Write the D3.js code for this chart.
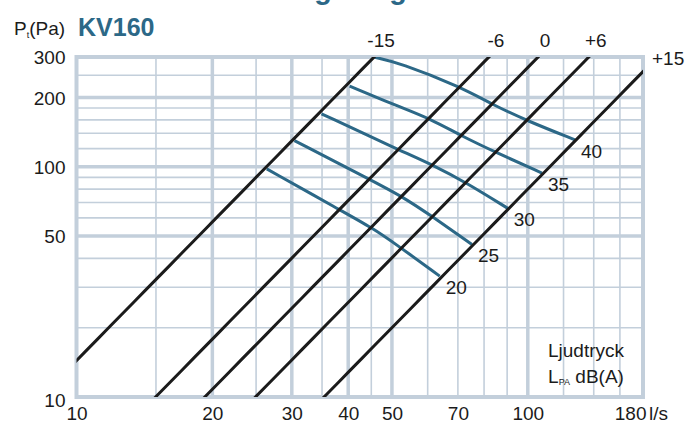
<!DOCTYPE html>
<html>
<head>
<meta charset="utf-8">
<script src="https://cdn.jsdelivr.net/npm/d3@7"></script>
<style>
  body { margin: 0; background: #fff; }
  text { font-family: "Liberation Sans", Arial, sans-serif; }
</style>
</head>
<body>
<svg id="chart" width="691" height="424"></svg>
<script>
// axis ticks (flow l/s, total pressure Pa)
const xTicks = [10, 20, 30, 40, 50, 70, 100, 180];
const yTicks = [10, 50, 100, 200, 300];
const xGridMajor = [20, 30, 40, 50, 100];
const xGridMinor = [15, 25, 35, 45, 60, 70, 80, 90, 120, 140, 160];
const yGridMajor = [50, 100, 200];
const yGridMinor = [20, 30, 40, 60, 70, 80, 90, 120, 140, 160, 180, 250];

// damper settings, pressure grows with q^2 : P = k * q^2
const settings = ["-15", "-6", "0", "+6", "+15"];
const kValues = [0.144, 0.0446, 0.0270, 0.0161, 0.0080];

// sound pressure curves, dB(A): [q, P]
const soundLevels = [40, 35, 30, 25, 20];
const sound40 = [[45.8, 299], [52, 283], [70.7, 223], [83.7, 186], [100, 158], [127.2, 131]];
const sound35 = [[40.3, 224], [52, 182], [60.7, 162], [71.4, 136], [85.4, 115], [107.5, 94]];
const sound30 = [[34.9, 170], [51.5, 119], [61.6, 102], [73.3, 85], [90.3, 66]];
const sound25 = [[30.4, 130], [44.2, 89], [52.6, 74.5], [61.3, 61], [75.2, 46]];
const sound20 = [[26.4, 98], [38.3, 65], [45.1, 54.5], [51.5, 45.5], [63.8, 33.5]];
const soundCurves = [sound40, sound35, sound30, sound25, sound20];

const blue = "#2c6887";
const gridColor = "#c3cfdb";

const svg = d3.select("#chart");
const x = d3.scaleLog().domain([10, 180]).range([76.5, 643]);
const y = d3.scaleLog().domain([10, 300]).range([397, 57]);

// cut-off title at the very top (only the descenders show)
const title = svg.append("text")
    .attr("font-weight", "bold").attr("font-size", 29)
    .attr("fill", blue).attr("y", -1)
    .text("Dimensioneringsdiagram");
{
  const n = title.node(), s = title.text();
  let e1 = n.getExtentOfChar(s.indexOf("g")), e2 = n.getExtentOfChar(s.lastIndexOf("g"));
  title.attr("font-size", 29 * 75 / (e2.x - e1.x));
  e1 = n.getExtentOfChar(s.indexOf("g"));
  title.attr("x", 323 - (e1.x + e1.width / 2));
}

svg.append("clipPath").attr("id", "plot")
  .append("rect").attr("x", x(10)).attr("y", y(300))
  .attr("width", x(180) - x(10)).attr("height", y(10) - y(300));

// grid
const grid = svg.append("g");
grid.selectAll(".vmin").data(xGridMinor).join("line")
    .attr("x1", d => x(d)).attr("x2", d => x(d)).attr("y1", y(10)).attr("y2", y(300))
    .attr("stroke", gridColor).attr("stroke-width", 1.6);
grid.selectAll(".hmin").data(yGridMinor).join("line")
    .attr("y1", d => y(d)).attr("y2", d => y(d)).attr("x1", x(10)).attr("x2", x(180))
    .attr("stroke", gridColor).attr("stroke-width", 1.6);
grid.selectAll(".vmaj").data(xGridMajor).join("line")
    .attr("x1", d => x(d)).attr("x2", d => x(d)).attr("y1", y(10)).attr("y2", y(300))
    .attr("stroke", gridColor).attr("stroke-width", 3.5);
grid.selectAll(".hmaj").data(yGridMajor).join("line")
    .attr("y1", d => y(d)).attr("y2", d => y(d)).attr("x1", x(10)).attr("x2", x(180))
    .attr("stroke", gridColor).attr("stroke-width", 3.5);
grid.append("rect")
    .attr("x", x(10)).attr("y", y(300))
    .attr("width", x(180) - x(10)).attr("height", y(10) - y(300))
    .attr("fill", "none").attr("stroke", gridColor).attr("stroke-width", 4);

const plot = svg.append("g").attr("clip-path", "url(#plot)");

// sound curves (smoothed)
const curveLine = d3.line().x(d => x(d[0])).y(d => y(d[1])).curve(d3.curveBasis);
plot.selectAll(".snd").data(soundCurves).join("path")
    .attr("d", curveLine).attr("fill", "none")
    .attr("stroke", blue).attr("stroke-width", 3);

// damper lines
const flows = d3.range(0, 61).map(i => 5 * Math.pow(40, i / 60));
plot.selectAll(".dmp").data(kValues).join("path")
    .attr("d", k => d3.line()(flows.map(q => [x(q), y(Math.max(1, k * q * q))])))
    .attr("fill", "none").attr("stroke", "#1b1b1b").attr("stroke-width", 3);

// damper labels
const lbl = svg.append("g").attr("font-size", 19).attr("fill", "#1b1b1b");
settings.forEach((s, i) => {
  const k = kValues[i];
  const qTop = Math.sqrt(300 / k);
  if (qTop <= 180) {
    lbl.append("text").attr("x", x(qTop) + 7).attr("y", 47)
       .attr("text-anchor", "middle").text(s);
  } else {
    lbl.append("text").attr("x", x(180) + 9).attr("y", 65).text(s);
  }
});

// sound level labels
soundCurves.forEach((c, i) => {
  const last = c[c.length - 1];
  lbl.append("text").attr("x", x(last[0]) + 6).attr("y", y(last[1]) + 18).text(soundLevels[i]);
});

// axes
const xAxis = svg.append("g").attr("transform", `translate(0,${y(10)})`)
    .call(d3.axisBottom(x).tickValues(xTicks).tickFormat(d3.format("d")).tickSize(0).tickPadding(10));
const yAxis = svg.append("g").attr("transform", `translate(${x(10)},0)`)
    .call(d3.axisLeft(y).tickValues(yTicks).tickFormat(d3.format("d")).tickSize(0).tickPadding(11));
[xAxis, yAxis].forEach(a => {
  a.select(".domain").remove();
  a.selectAll("text").attr("font-size", 19).attr("fill", "#1b1b1b")
   .attr("font-family", "Liberation Sans, Arial, sans-serif");
});
yAxis.selectAll(".tick text").attr("dy", "0.34em");
yAxis.selectAll(".tick").filter(d => d === 10).select("text").attr("dy", "0.5em");
xAxis.selectAll(".tick").filter(d => d === 180).select("text")
    .attr("text-anchor", "end").attr("dx", 3);
svg.append("text").attr("x", 649).attr("y", 420).attr("font-size", 19)
    .attr("fill", "#1b1b1b").text("l/s");

// axis title
const yt = svg.append("text").attr("x", 14).attr("y", 35).attr("font-size", 19).attr("fill", "#1b1b1b");
yt.append("tspan").text("P");
yt.append("tspan").attr("font-size", 9).attr("dy", 3).text("t");
yt.append("tspan").attr("dy", -3).text("(Pa)");
svg.append("text").attr("x", 78).attr("y", 36).attr("font-size", 25)
    .attr("font-weight", "bold").attr("fill", blue).text("KV160");

// legend note
const note = svg.append("g").attr("font-size", 19).attr("fill", "#1b1b1b").attr("text-anchor", "middle");
note.append("text").attr("x", 586).attr("y", 357).text("Ljudtryck");
const n2 = note.append("text").attr("x", 586).attr("y", 383);
n2.append("tspan").text("L");
n2.append("tspan").attr("font-size", 9).attr("dy", 2).text("PA");
n2.append("tspan").attr("dy", -2).text(" dB(A)");
</script>
</body>
</html>
